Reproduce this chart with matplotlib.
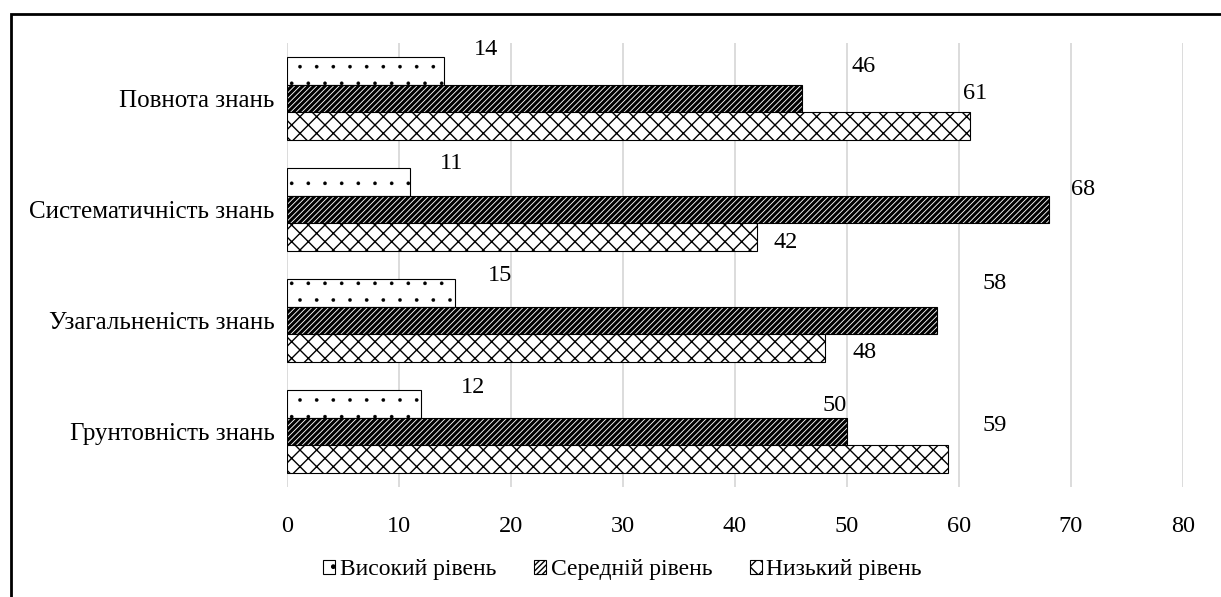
import numpy as np
import matplotlib.pyplot as plt
from matplotlib.patches import Rectangle

plt.rcParams['font.family'] = ['Liberation Serif', 'DejaVu Serif']

categories = ['Повнота знань', 'Систематичність знань', 'Узагальненість знань', 'Грунтовність знань']
series = ['Високий рівень', 'Середній рівень', 'Низький рівень']
high = [14, 11, 15, 12]
mid = [46, 68, 58, 50]
low = [61, 42, 48, 59]

# label offsets in pixels (dx from bar end, dy from bar centre, down positive)
lab_off = [
    [(42, -21), (41, -18), (45, -17), (52, -16)],
    [(61, -32), (34, -20), (58, -37), (-12, -26)],
    [(5, -33), (28, 5), (40, 4), (47, -34)],
]

fig = plt.figure(figsize=(12.21, 5.97), dpi=100)
ax = fig.add_axes([287/1221, 1-487/597, (1183-287)/1221, (487-43)/597])

y = np.arange(len(categories))
h = 0.252
hatches = ['.', '//////', 'xx']
hlw = [0.2, 2.2, 1.0]
vals = [high, mid, low]
for k, (v, hat) in enumerate(zip(vals, hatches)):
    plt.rcParams['hatch.linewidth'] = hlw[k]
    bars = ax.barh(y + (k-1)*h, v, height=h, color='white', edgecolor='black',
                   hatch=hat, linewidth=0.8, label=series[k], zorder=3)
    for i, b in enumerate(bars):
        dx, dy = lab_off[k][i]
        ax.annotate(str(v[i]), (b.get_width(), b.get_y() + h/2),
                    xytext=(dx, -dy), textcoords='offset pixels',
                    ha='center', va='center', fontsize=17.5)

ax.set_xlim(0, 80)
ax.set_ylim(3.5, -0.5)
ax.set_xticks(range(0, 81, 10))
ax.set_yticks(y)
ax.set_yticklabels(categories, fontsize=18)
ax.tick_params(axis='x', labelsize=17.5, length=0, pad=21)
ax.tick_params(axis='y', length=0, pad=9)
ax.grid(axis='x', color='#d9d9d9', linewidth=1.3, zorder=0)
for s in ax.spines.values():
    s.set_visible(False)

fig.legend(loc='center', bbox_to_anchor=(0.51, 1-570/597), ncol=3, frameon=False,
           fontsize=17, handlelength=0.5, handleheight=0.5, handletextpad=0.2,
           columnspacing=1.6)

fig.patches.append(Rectangle((11/1221, -0.05), 1.1, 1-14/597+0.05,
                             transform=fig.transFigure, fill=False,
                             edgecolor='black', linewidth=2))

fig.savefig('out.png', dpi=100)
